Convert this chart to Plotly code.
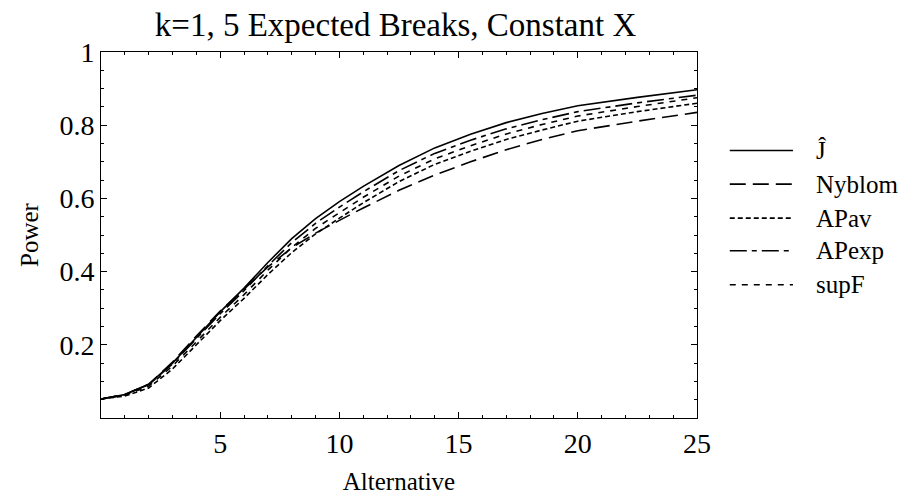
import plotly.graph_objects as go

# Alternative values on the horizontal axis
alternative = [0, 1, 2, 3, 4, 5, 6, 7, 8, 9, 10, 11, 12.5, 14, 15.5, 17, 18.5, 20, 22.5, 25]

# Power of each test
power_j = [0.052, 0.064, 0.092, 0.150, 0.220, 0.290, 0.355, 0.425, 0.490, 0.545, 0.591,
           0.633, 0.690, 0.738, 0.775, 0.807, 0.832, 0.853, 0.876, 0.897]
power_nyblom = [0.052, 0.064, 0.092, 0.153, 0.224, 0.292, 0.352, 0.413, 0.465, 0.505, 0.540,
                0.574, 0.622, 0.664, 0.700, 0.733, 0.761, 0.785, 0.811, 0.835]
power_apav = [0.052, 0.060, 0.082, 0.134, 0.200, 0.266, 0.327, 0.392, 0.452, 0.503, 0.546,
              0.588, 0.646, 0.693, 0.729, 0.761, 0.787, 0.811, 0.837, 0.860]
power_apexp = [0.052, 0.064, 0.091, 0.148, 0.217, 0.285, 0.348, 0.416, 0.479, 0.532, 0.576,
               0.618, 0.676, 0.723, 0.759, 0.790, 0.815, 0.837, 0.861, 0.882]
power_supf = [0.052, 0.062, 0.087, 0.142, 0.208, 0.275, 0.337, 0.404, 0.466, 0.518, 0.561,
              0.603, 0.661, 0.708, 0.744, 0.776, 0.802, 0.825, 0.851, 0.875]

series_names = ["Ĵ", "Nyblom", "APav", "APexp", "supF"]
series_values = [power_j, power_nyblom, power_apav, power_apexp, power_supf]
series_dash = ["solid", "16px,7px", "5px,3px", "17px,5px,5px,5px", "6px,6px"]

x_ticks = [5, 10, 15, 20, 25]
y_ticks = [0.2, 0.4, 0.6, 0.8, 1]
y_tick_text = ["0.2", "0.4", "0.6", "0.8", "1"]

FONT = "Liberation Serif"

fig = go.Figure()
for name, vals, dash in zip(series_names, series_values, series_dash):
    fig.add_trace(go.Scatter(
        x=alternative, y=vals, mode="lines", name=name,
        line=dict(color="black", width=1.6, dash=dash),
        showlegend=False,
    ))

# Legend drawn beside the frame: a line sample and a label per test
legend_y = [0.731, 0.639, 0.546, 0.457, 0.364]
for name, dash, ly in zip(series_names, series_dash, legend_y):
    fig.add_shape(type="line", xref="paper", yref="paper",
                  x0=1.055, x1=1.161, y0=ly, y1=ly,
                  line=dict(color="black", width=1.6, dash=dash))
    fig.add_annotation(xref="paper", yref="paper", x=1.197, y=ly,
                       text=name, showarrow=False, xanchor="left", yanchor="middle",
                       font=dict(family=FONT, size=25, color="black"))

axis_common = dict(
    showline=True, linecolor="black", linewidth=1, mirror="allticks",
    ticks="inside", ticklen=6, tickcolor="black", showgrid=False, zeroline=False,
    tickfont=dict(family=FONT, size=28, color="black"),
)

fig.update_xaxes(
    range=[0, 25], tickvals=x_ticks,
    minor=dict(ticks="inside", dtick=1, ticklen=3, tickcolor="black"),
    title=dict(text="Alternative", font=dict(family=FONT, size=25, color="black"), standoff=14),
    **axis_common,
)
fig.update_yaxes(
    range=[0, 1], tickvals=y_ticks, ticktext=y_tick_text,
    minor=dict(ticks="inside", dtick=0.05, ticklen=3, tickcolor="black"),
    title=dict(text="Power", font=dict(family=FONT, size=25, color="black"), standoff=13),
    **axis_common,
)

fig.update_layout(
    width=899, height=502,
    margin=dict(l=101, r=202, t=52, b=82),
    paper_bgcolor="white", plot_bgcolor="white",
    title=dict(text="k=1, 5 Expected Breaks, Constant X", x=0.44, xanchor="center",
               y=0.952, yanchor="middle",
               font=dict(family=FONT, size=33, color="black")),
)

fig.write_html("out.html")
